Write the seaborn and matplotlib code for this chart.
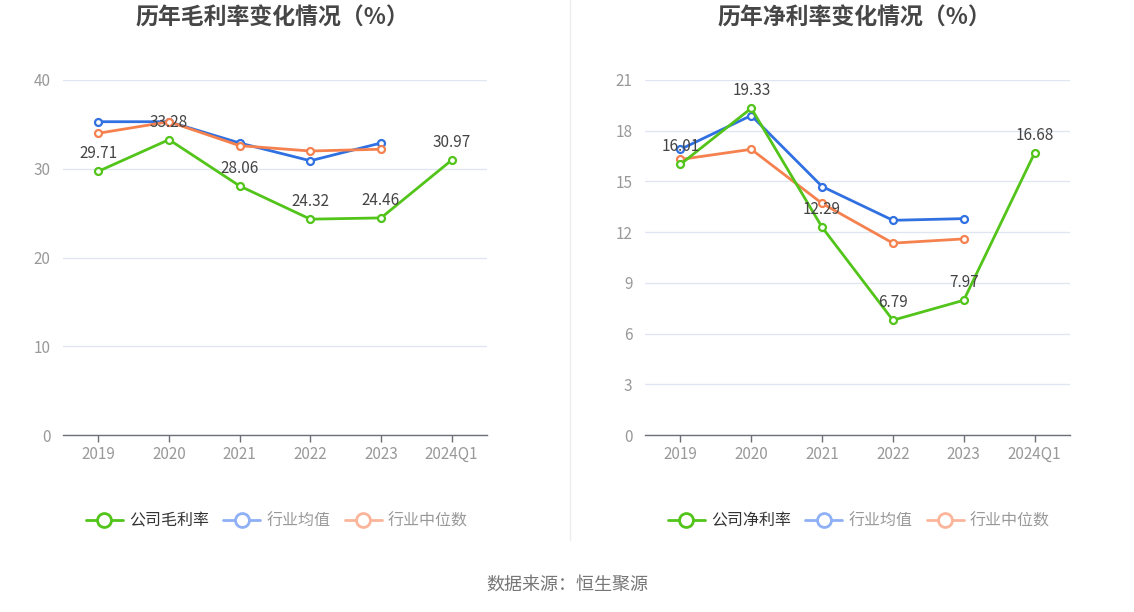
import matplotlib
matplotlib.use("Agg")
import matplotlib.pyplot as plt
import seaborn as sns
import pandas as pd
from matplotlib.lines import Line2D

categories = ["2019", "2020", "2021", "2022", "2023", "2024Q1"]

gross_company = [29.71, 33.28, 28.06, 24.32, 24.46, 30.97]
gross_avg = [35.3, 35.3, 32.9, 30.9, 32.9, None]
gross_median = [34.0, 35.3, 32.6, 32.0, 32.2, None]

net_company = [16.01, 19.33, 12.29, 6.79, 7.97, 16.68]
net_avg = [16.9, 18.9, 14.7, 12.7, 12.8, None]
net_median = [16.3, 16.9, 13.7, 11.35, 11.6, None]

titles = ["历年毛利率变化情况（%）", "历年净利率变化情况（%）"]
legend_company = ["公司毛利率", "公司净利率"]
legend_avg = "行业均值"
legend_median = "行业中位数"
source_text = "数据来源：恒生聚源"

sns.set_theme(style="white")
plt.rcParams["font.family"] = ["Noto Sans CJK SC", "DejaVu Sans"]

GREEN = "#52c41a"
BLUE = "#3070e0"
ORANGE = "#f5814f"
GREEN_L = "#52c41a"
BLUE_L = "#8fb0f5"
ORANGE_L = "#fab59a"

W, H = 1134, 612
fig = plt.figure(figsize=(W / 100, H / 100), dpi=100)

def px_axes(x0, y0, x1, y1):
    return fig.add_axes([x0 / W, 1 - y1 / H, (x1 - x0) / W, (y1 - y0) / H])

configs = [
    dict(box=(63, 80, 487, 435), ymax=40, step=10, comp=gross_company, avg=gross_avg,
         med=gross_median, title=titles[0], leg=legend_company[0], cx=272),
    dict(box=(645, 80, 1070, 435), ymax=21, step=3, comp=net_company, avg=net_avg,
         med=net_median, title=titles[1], leg=legend_company[1], cx=854),
]

for cfg in configs:
    ax = px_axes(*cfg["box"])
    xs = list(range(len(categories)))
    df = pd.DataFrame({"x": xs, "comp": cfg["comp"], "avg": cfg["avg"], "med": cfg["med"]})
    for col, color, z in [("avg", BLUE, 3), ("med", ORANGE, 4), ("comp", GREEN, 5)]:
        sub = df.dropna(subset=[col])
        sns.lineplot(data=sub, x="x", y=col, ax=ax, color=color, linewidth=2,
                     marker="o", markersize=5, markerfacecolor="white",
                     markeredgecolor=color, markeredgewidth=1.6, zorder=z)
    for x, v in zip(xs, cfg["comp"]):
        ax.annotate(f"{v:.2f}", (x, v), xytext=(0, 6.5), textcoords="offset points",
                    ha="center", va="bottom", fontsize=11, color="#444444", zorder=10)
    ax.set_xlim(-0.5, len(categories) - 0.5)
    ax.set_ylim(0, cfg["ymax"])
    ax.set_yticks(list(range(0, cfg["ymax"] + 1, cfg["step"])))
    ax.set_xticks(xs)
    ax.set_xticklabels(categories)
    ax.set_xlabel("")
    ax.set_ylabel("")
    ax.grid(axis="y", color="#e0e6f1", linewidth=1)
    ax.set_axisbelow(True)
    for s in ["top", "right", "left"]:
        ax.spines[s].set_visible(False)
    ax.spines["bottom"].set_color("#6e7079")
    ax.spines["bottom"].set_linewidth(1)
    ax.tick_params(axis="x", colors="#6e7079", length=5, width=1, labelcolor="#999999",
                   labelsize=11, pad=3, direction="out", bottom=True)
    ax.tick_params(axis="y", length=0, labelcolor="#999999", labelsize=11, pad=9)
    ax.set_facecolor("none")

    fig.text(cfg["cx"] / W, 1 - 18 / H, cfg["title"], ha="center", va="center",
             fontsize=16.5, fontweight="bold", color="#464646")

    handles = [
        Line2D([0], [0], color=GREEN_L, lw=2, marker="o", markersize=10,
               markerfacecolor="white", markeredgecolor=GREEN_L, markeredgewidth=2),
        Line2D([0], [0], color=BLUE_L, lw=2, marker="o", markersize=10,
               markerfacecolor="white", markeredgecolor=BLUE_L, markeredgewidth=2),
        Line2D([0], [0], color=ORANGE_L, lw=2, marker="o", markersize=10,
               markerfacecolor="white", markeredgecolor=ORANGE_L, markeredgewidth=2),
    ]
    leg = fig.legend(handles, [cfg["leg"], legend_avg, legend_median],
                     loc="center", bbox_to_anchor=(277 / W if cfg is configs[0] else 859 / W, 1 - 521 / H),
                     ncol=3, frameon=False, fontsize=11.5, handlelength=2.3,
                     handletextpad=0.4, columnspacing=0.9)
    for t, c in zip(leg.get_texts(), ["#333333", "#999999", "#999999"]):
        t.set_color(c)

fig.add_artist(Line2D([570 / W, 570 / W], [1 - 0 / H, 1 - 540 / H], color="#eeeeee", lw=1))

fig.text(567 / W, 1 - 585 / H, source_text, ha="center", va="center",
         fontsize=13, color="#777777")

fig.savefig("out.png", dpi=100)
